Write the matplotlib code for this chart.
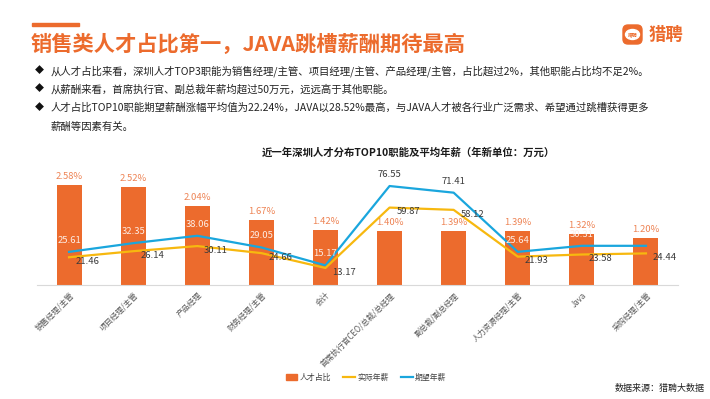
import matplotlib.pyplot as plt
from matplotlib.patches import Rectangle, FancyBboxPatch, Ellipse
from matplotlib.lines import Line2D
from matplotlib.transforms import IdentityTransform
import numpy as np

plt.rcParams['font.family'] = ['Noto Sans CJK SC', 'DejaVu Sans']

# data
categories = ["销售经理/主管", "项目经理/主管", "产品经理", "财务经理/主管", "会计",
              "首席执行官CEO/总裁/总经理", "副总裁/副总经理", "人力资源经理/主管",
              "Java", "采购经理/主管"]
share = [2.58, 2.52, 2.04, 1.67, 1.42, 1.40, 1.39, 1.39, 1.32, 1.20]
actual_salary = [21.46, 26.14, 30.11, 24.66, 13.17, 59.87, 58.12, 21.93, 23.58, 24.44]
expected_salary = [25.61, 32.35, 38.06, 29.05, 15.17, 76.55, 71.41, 25.64, 30.31, 30.30]
expected_shown = [True] * 9 + [False]

bullets = [
    "从人才占比来看，深圳人才TOP3职能为销售经理/主管、项目经理/主管、产品经理/主管，占比超过2%，其他职能占比均不足2%。",
    "从薪酬来看，首席执行官、副总裁年薪均超过50万元，远远高于其他职能。",
    "人才占比TOP10职能期望薪酬涨幅平均值为22.24%，JAVA以28.52%最高，与JAVA人才被各行业广泛需求、希望通过跳槽获得更多",
]
bullet_cont = "薪酬等因素有关。"

ORANGE = "#EC6B2D"
LABEL_ORANGE = "#EE8455"
YELLOW = "#F7B80F"
BLUE = "#1AA6DD"
DARK = "#3A3A3A"

fig = plt.figure(figsize=(7.1, 3.99), dpi=100)
W, H = 710, 399

# header
fig.add_artist(Rectangle((32, H - 26), 47, 3, color=ORANGE, transform=IdentityTransform()))
fig.text(31 / W, 1 - 44 / H, "销售类人才占比第一，JAVA跳槽薪酬期待最高", fontsize=15.3,
         fontweight='bold', color=ORANGE, va='center', ha='left')

# logo
fig.add_artist(FancyBboxPatch((623, H - 44), 19, 19, boxstyle="round,pad=0,rounding_size=5",
                              color=ORANGE, transform=IdentityTransform()))
fig.add_artist(Ellipse((632.5, H - 34.5), 14, 10, color="white", transform=IdentityTransform()))
fig.text(632.5 / W, 1 - 34.5 / H, "猎聘", fontsize=3.5, color=ORANGE, ha='center', va='center',
         fontweight='bold')
fig.text(649 / W, 1 - 35 / H, "猎聘", fontsize=12.5, color=ORANGE, ha='left', va='center',
         fontweight='bold')

# bullets
bullet_y = [71, 89, 108]
for y, t in zip(bullet_y, bullets):
    fig.text(39 / W, 1 - y / H, "◆", fontsize=6.5, color="#111111", ha='center', va='center')
    fig.text(51 / W, 1 - y / H, t, fontsize=7.5, color="#222222", ha='left', va='center')
fig.text(51 / W, 1 - 127 / H, bullet_cont, fontsize=7.5, color="#222222", ha='left', va='center')

# chart title
fig.text(408 / W, 1 - 153 / H, "近一年深圳人才分布TOP10职能及平均年薪（年新单位：万元）",
         fontsize=7.5, fontweight='bold', color="#1a1a1a", ha='center', va='center')

# axes
ax = fig.add_axes([37 / W, 1 - 285 / H, (678 - 37) / W, (285 - 160) / H])
ax2 = ax.twinx()
x = np.arange(len(categories))

ax.bar(x, share, width=0.39, color=ORANGE, zorder=2)
ax.set_xlim(-0.5, 9.5)
ax.set_ylim(0, 125 / 38.76)
for xi, v in zip(x, share):
    ax.annotate(f"{v:.2f}%", (xi, v), xytext=(0, 3), textcoords='offset points',
                ha='center', va='bottom', fontsize=6.8, color=LABEL_ORANGE)

ax2.plot(x, expected_salary, color=BLUE, lw=1.6, zorder=3)
ax2.plot(x, actual_salary, color=YELLOW, lw=1.6, zorder=3)
ax2.set_ylim(0, 125 / 1.293)

for xi, v, s, sh in zip(x, expected_salary, expected_shown, share):
    if not s:
        continue
    on_bar = v * 1.293 < sh * 38.76
    ax2.annotate(f"{v:.2f}", (xi, v), xytext=(0, 5), textcoords='offset points',
                 ha='center', va='bottom', fontsize=6.8,
                 color="#FDEDE5" if on_bar else DARK)
for xi, v in zip(x, actual_salary):
    ax2.annotate(f"{v:.2f}", (xi, v), xytext=(5, -3), textcoords='offset points',
                 ha='left', va='center', fontsize=6.8, color=DARK)

for a in (ax, ax2):
    for side in ("top", "right", "left"):
        a.spines[side].set_visible(False)
    a.set_yticks([])
ax2.spines["bottom"].set_visible(False)
ax.spines["bottom"].set_color("#D9D9D9")
ax.set_xticks(x)
ax.set_xticklabels(categories, rotation=45, ha='right', rotation_mode='anchor',
                   fontsize=5.7, color="#595959")
ax.tick_params(axis='x', length=0, pad=4)

# legend
handles = [Rectangle((0, 0), 1, 1, color=ORANGE),
           Line2D([0], [0], color=YELLOW, lw=1.6),
           Line2D([0], [0], color=BLUE, lw=1.6)]
fig.legend(handles, ["人才占比", "实际年薪", "期望年薪"], loc='center', ncol=3,
           bbox_to_anchor=(366 / W, 1 - 377 / H), frameon=False, fontsize=5.7,
           handlelength=1.5, handletextpad=0.3, columnspacing=1.5, labelcolor="#404040")

fig.text(705 / W, 1 - 388 / H, "数据来源：猎聘大数据", fontsize=6.5, color="#222222",
         ha='right', va='center')

fig.savefig("out.png", dpi=100)
